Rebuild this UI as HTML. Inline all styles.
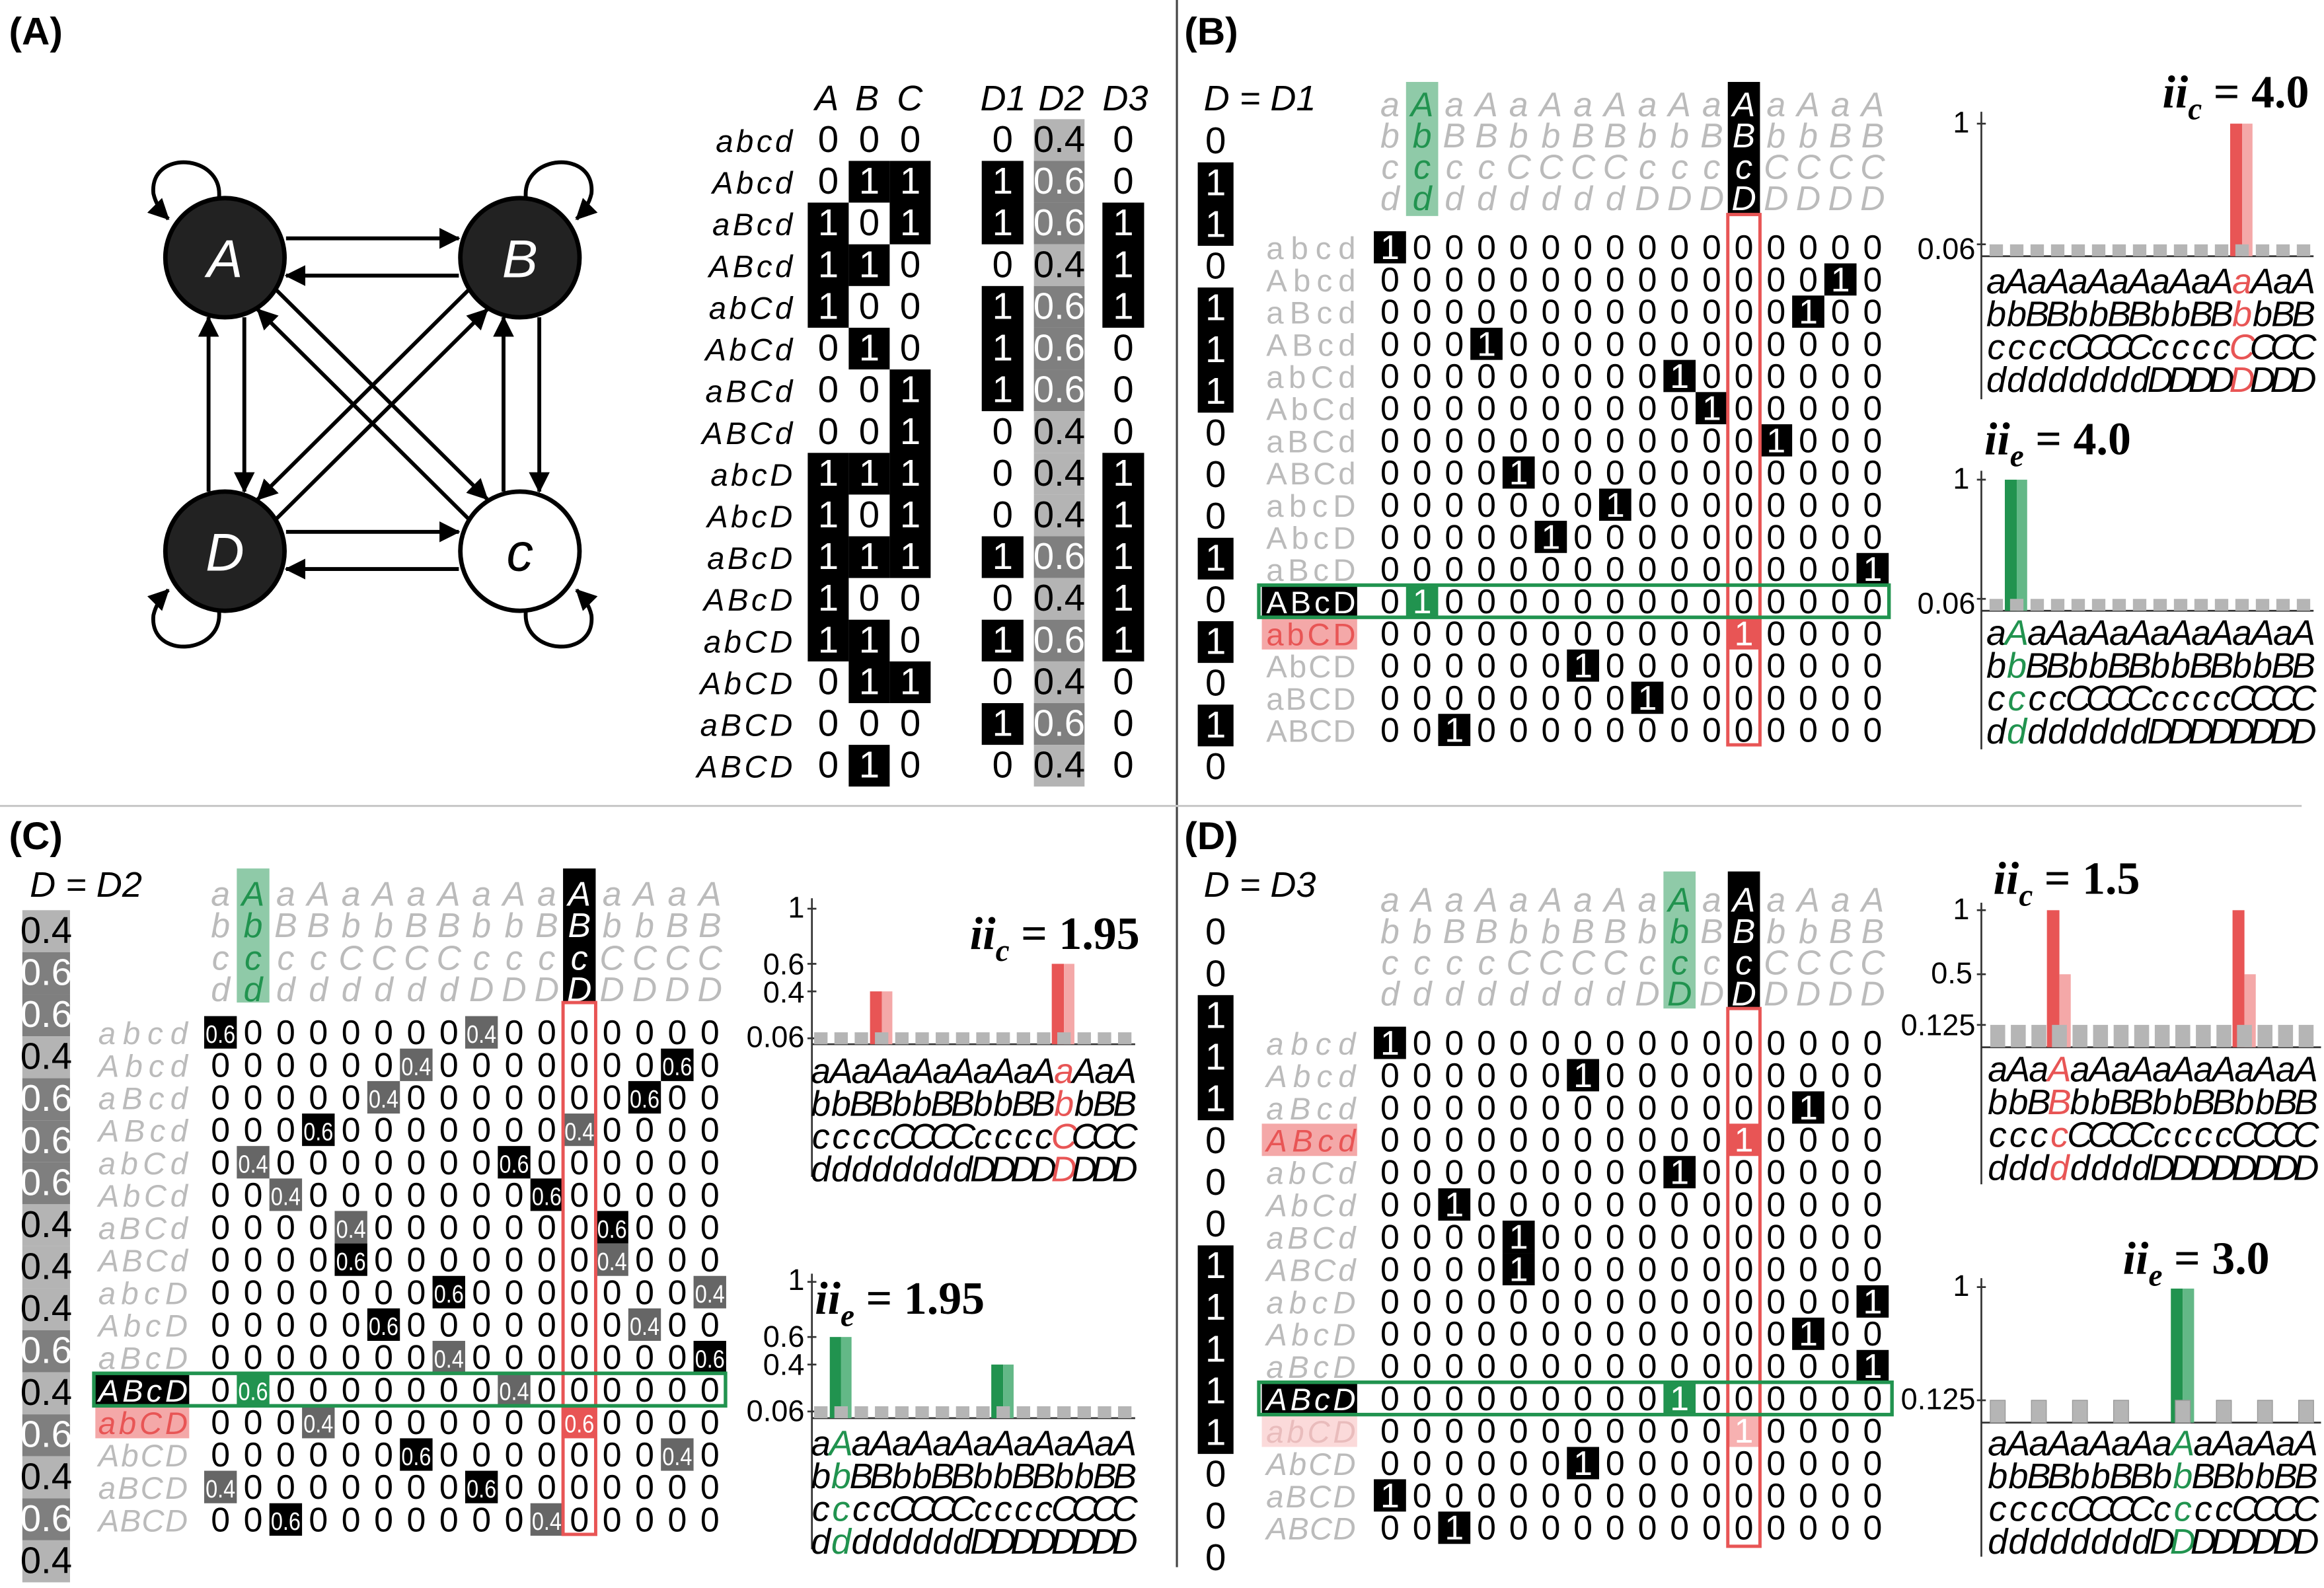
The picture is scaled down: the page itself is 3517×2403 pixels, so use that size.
<!DOCTYPE html>
<html><head><meta charset="utf-8"><style>
html,body{margin:0;padding:0;background:#fff}
svg{display:block}
text{font-family:"Liberation Sans",sans-serif}
.z{font-size:23px;text-anchor:middle}
.big{font-size:25px;text-anchor:middle}
.hd{font-size:23px;font-style:italic;fill:#bbb;text-anchor:middle}
.lb{font-size:21px;fill:#bbb;text-anchor:end}
.lbi{font-size:21px;font-style:italic;fill:#bbb;text-anchor:end}
.la{font-size:21px;font-style:italic;fill:#000;text-anchor:end;letter-spacing:2px}
.w{fill:#fff}
.g{fill:#21934f}
.gl{fill:#63b887}
.r{fill:#e85555}
.rl{fill:#f4a8a8}
.v{font-size:17px;fill:#fff;text-anchor:middle}
.cl{font-size:24px;font-style:italic;text-anchor:middle}
.tk{font-size:20px;text-anchor:end}
.ti{font-family:"Liberation Serif",serif;font-weight:bold;font-size:31px}
.pl{font-size:26px;font-weight:bold}
.dd{font-size:24px;font-style:italic}
.nd{font-size:36px;font-style:italic;text-anchor:middle}
.sq{fill:#b5b5b5;stroke:#999;stroke-width:.6}
</style></head><body>
<svg width="3517" height="2403" viewBox="0 0 1560 1066" preserveAspectRatio="none" xmlns="http://www.w3.org/2000/svg">
<defs>
<marker id="ar" markerWidth="14" markerHeight="14" refX="13" refY="7" orient="auto" markerUnits="userSpaceOnUse"><path d="M0,0 L14,7 L0,14 z" fill="#000"/></marker>
</defs>
<rect width="1560" height="1066" fill="#fff"/>
<line x1="790" y1="0" x2="790" y2="1052" stroke="#444" stroke-width="1.4"/>
<line x1="0" y1="541" x2="1545" y2="541" stroke="#c8c8c8" stroke-width="1.4"/>
<text class="pl" x="6" y="30">(A)</text>
<text class="pl" x="795" y="30">(B)</text>
<text class="pl" x="6" y="570">(C)</text>
<text class="pl" x="795" y="570">(D)</text>

<g stroke="#000" stroke-width="2.6" fill="none" marker-end="url(#ar)">
<path d="M192,160 L308,160"/>
<path d="M308,185 L192,185"/>
<path d="M192,357 L308,357"/>
<path d="M308,382 L192,382"/>
<path d="M164,213 L164,330"/>
<path d="M140,330 L140,213"/>
<path d="M362,213 L362,330"/>
<path d="M338,330 L338,213"/>
<path d="M185.7,194.9 L327,335"/>
<path d="M314.3,348.1 L172.9,207.7"/>
<path d="M314.3,194.9 L172.9,335.3"/>
<path d="M185.7,348.1 L327.1,207.7"/>
<path d="M147,133 C150,103 100,100 103,130 Q105,139 113,147"/>
<path d="M353,133 C350,103 400,100 397,130 Q395,139 387,147"/>
<path d="M147,410 C150,440 100,443 103,413 Q105,404 113,396"/>
<path d="M353,410 C350,440 400,443 397,413 Q395,404 387,396"/>
</g>
<circle cx="151" cy="173" r="40" fill="#222" stroke="#000" stroke-width="3"/>
<circle cx="349" cy="173" r="40" fill="#222" stroke="#000" stroke-width="3"/>
<circle cx="151" cy="370" r="40" fill="#222" stroke="#000" stroke-width="3"/>
<circle cx="349" cy="370" r="40" fill="#fff" stroke="#000" stroke-width="3"/>
<text class="nd w" x="151" y="186">A</text>
<text class="nd w" x="349" y="186">B</text>
<text class="nd w" x="151" y="383">D</text>
<text class="nd" x="349" y="383">c</text>

<g fill="#000">
<rect x="542.2" y="136" width="27.5" height="84"/><rect x="542.2" y="304" width="27.5" height="140"/>
<rect x="569.7" y="108" width="27.5" height="28"/><rect x="569.7" y="164" width="27.5" height="28"/><rect x="569.7" y="220" width="27.5" height="28"/><rect x="569.7" y="304" width="27.5" height="28"/><rect x="569.7" y="360" width="27.5" height="28"/><rect x="569.7" y="416" width="27.5" height="56"/><rect x="569.7" y="500" width="27.5" height="28"/>
<rect x="597.2" y="108" width="27.5" height="56"/><rect x="597.2" y="248" width="27.5" height="140"/><rect x="597.2" y="444" width="27.5" height="28"/>
<rect x="659" y="108" width="28" height="56"/><rect x="659" y="192" width="28" height="84"/><rect x="659" y="360" width="28" height="28"/><rect x="659" y="416" width="28" height="28"/><rect x="659" y="472" width="28" height="28"/>
<rect x="740" y="136" width="28" height="84"/><rect x="740" y="304" width="28" height="140"/>
</g>
<g>
<rect x="694" y="80" width="34" height="28" fill="#b4b4b4"/><rect x="694" y="108" width="34" height="28" fill="#7f7f7f"/><rect x="694" y="136" width="34" height="28" fill="#7f7f7f"/><rect x="694" y="164" width="34" height="28" fill="#b4b4b4"/><rect x="694" y="192" width="34" height="28" fill="#7f7f7f"/><rect x="694" y="220" width="34" height="28" fill="#7f7f7f"/><rect x="694" y="248" width="34" height="28" fill="#7f7f7f"/><rect x="694" y="276" width="34" height="28" fill="#b4b4b4"/><rect x="694" y="304" width="34" height="28" fill="#b4b4b4"/><rect x="694" y="332" width="34" height="28" fill="#b4b4b4"/><rect x="694" y="360" width="34" height="28" fill="#7f7f7f"/><rect x="694" y="388" width="34" height="28" fill="#b4b4b4"/><rect x="694" y="416" width="34" height="28" fill="#7f7f7f"/><rect x="694" y="444" width="34" height="28" fill="#b4b4b4"/><rect x="694" y="472" width="34" height="28" fill="#7f7f7f"/><rect x="694" y="500" width="34" height="28" fill="#b4b4b4"/>
</g>
<text class="dd" x="547" y="74">A</text><text class="dd" x="574" y="74">B</text><text class="dd" x="602" y="74">C</text>
<text class="dd" x="658" y="74">D1</text><text class="dd" x="697" y="74">D2</text><text class="dd" x="740" y="74">D3</text>
<g class="la">
<text x="534" y="102">abcd</text><text x="534" y="130">Abcd</text><text x="534" y="158">aBcd</text><text x="534" y="186">ABcd</text>
<text x="534" y="214">abCd</text><text x="534" y="242">AbCd</text><text x="534" y="270">aBCd</text><text x="534" y="298">ABCd</text>
<text x="534" y="326">abcD</text><text x="534" y="354">AbcD</text><text x="534" y="382">aBcD</text><text x="534" y="410">ABcD</text>
<text x="534" y="438">abCD</text><text x="534" y="466">AbCD</text><text x="534" y="494">aBCD</text><text x="534" y="522">ABCD</text>
</g>
<g class="big">
<text x="556 583.5 611 673 754" y="102">00000</text>
<text x="556 583.5 611 673 754" y="130">0<tspan class="w">111</tspan>0</text>
<text x="556 583.5 611 673 754" y="158"><tspan class="w">1</tspan>0<tspan class="w">111</tspan></text>
<text x="556 583.5 611 673 754" y="186"><tspan class="w">11</tspan>00<tspan class="w">1</tspan></text>
<text x="556 583.5 611 673 754" y="214"><tspan class="w">1</tspan>00<tspan class="w">11</tspan></text>
<text x="556 583.5 611 673 754" y="242">0<tspan class="w">1</tspan>0<tspan class="w">1</tspan>0</text>
<text x="556 583.5 611 673 754" y="270">00<tspan class="w">11</tspan>0</text>
<text x="556 583.5 611 673 754" y="298">00<tspan class="w">1</tspan>00</text>
<text x="556 583.5 611 673 754" y="326"><tspan class="w">111</tspan>0<tspan class="w">1</tspan></text>
<text x="556 583.5 611 673 754" y="354"><tspan class="w">1</tspan>0<tspan class="w">1</tspan>0<tspan class="w">1</tspan></text>
<text x="556 583.5 611 673 754" y="382"><tspan class="w">11111</tspan></text>
<text x="556 583.5 611 673 754" y="410"><tspan class="w">1</tspan>000<tspan class="w">1</tspan></text>
<text x="556 583.5 611 673 754" y="438"><tspan class="w">11</tspan>0<tspan class="w">11</tspan></text>
<text x="556 583.5 611 673 754" y="466">0<tspan class="w">11</tspan>00</text>
<text x="556 583.5 611 673 754" y="494">000<tspan class="w">1</tspan>0</text>
<text x="556 583.5 611 673 754" y="522">0<tspan class="w">1</tspan>000</text>
<text x="711" y="102">0.4</text><text x="711" y="130" class="w">0.6</text><text x="711" y="158" class="w">0.6</text><text x="711" y="186">0.4</text>
<text x="711" y="214" class="w">0.6</text><text x="711" y="242" class="w">0.6</text><text x="711" y="270" class="w">0.6</text><text x="711" y="298">0.4</text>
<text x="711" y="326">0.4</text><text x="711" y="354">0.4</text><text x="711" y="382" class="w">0.6</text><text x="711" y="410">0.4</text>
<text x="711" y="438" class="w">0.6</text><text x="711" y="466">0.4</text><text x="711" y="494" class="w">0.6</text><text x="711" y="522">0.4</text>
</g>

<text class="dd" x="808" y="74">D = D1</text>
<g fill="#000">
<rect x="804" y="109" width="24" height="56"/><rect x="804" y="193" width="24" height="84"/><rect x="804" y="361" width="24" height="28"/><rect x="804" y="417" width="24" height="28"/><rect x="804" y="473" width="24" height="28"/>
</g>
<g class="big">
<text x="816" y="103">0</text><text x="816" y="131" class="w">1</text><text x="816" y="159" class="w">1</text><text x="816" y="187">0</text>
<text x="816" y="215" class="w">1</text><text x="816" y="243" class="w">1</text><text x="816" y="271" class="w">1</text><text x="816" y="299">0</text>
<text x="816" y="327">0</text><text x="816" y="355">0</text><text x="816" y="383" class="w">1</text><text x="816" y="411">0</text>
<text x="816" y="439" class="w">1</text><text x="816" y="467">0</text><text x="816" y="495" class="w">1</text><text x="816" y="523">0</text>
</g>
<rect x="943.8" y="55" width="21.6" height="90" fill="#8fcaa8"/>
<rect x="1159.8" y="55" width="21.6" height="89" fill="#000"/>
<g class="hd">
<text x="933 954.6 976.2 997.8 1019.4 1041 1062.6 1084.2 1105.8 1127.4 1149 1170.6 1192.2 1213.8 1235.4 1257" y="78">a<tspan class="g">A</tspan>aAaAaAaAa<tspan class="w">A</tspan>aAaA</text>
<text x="933 954.6 976.2 997.8 1019.4 1041 1062.6 1084.2 1105.8 1127.4 1149 1170.6 1192.2 1213.8 1235.4 1257" y="99">b<tspan class="g">b</tspan>BBbbBBbbB<tspan class="w">B</tspan>bbBB</text>
<text x="933 954.6 976.2 997.8 1019.4 1041 1062.6 1084.2 1105.8 1127.4 1149 1170.6 1192.2 1213.8 1235.4 1257" y="120">c<tspan class="g">c</tspan>ccCCCCccc<tspan class="w">c</tspan>CCCC</text>
<text x="933 954.6 976.2 997.8 1019.4 1041 1062.6 1084.2 1105.8 1127.4 1149 1170.6 1192.2 1213.8 1235.4 1257" y="141">d<tspan class="g">d</tspan>ddddddDDD<tspan class="w">D</tspan>DDDD</text>
</g>
<rect x="847" y="392.8" width="64" height="21.6" fill="#000"/>
<rect x="847" y="414.4" width="64" height="21.6" fill="#f4a8a8"/>
<g class="lb">
<text x="910" y="174" textLength="60">abcd</text><text x="910" y="195.6" textLength="60">Abcd</text><text x="910" y="217.2" textLength="60">aBcd</text><text x="910" y="238.8" textLength="60">ABcd</text>
<text x="910" y="260.4" textLength="60">abCd</text><text x="910" y="282" textLength="60">AbCd</text><text x="910" y="303.6" textLength="60">aBCd</text><text x="910" y="325.2" textLength="60">ABCd</text>
<text x="910" y="346.8" textLength="60">abcD</text><text x="910" y="368.4" textLength="60">AbcD</text><text x="910" y="390" textLength="60">aBcD</text><text x="910" y="411.6" textLength="60" class="w">ABcD</text>
<text x="910" y="433.2" textLength="60" class="r">abCD</text><text x="910" y="454.8" textLength="60">AbCD</text><text x="910" y="476.4" textLength="60">aBCD</text><text x="910" y="498" textLength="60">ABCD</text>
</g>
<g class="z">
<text x="933 954.6 976.2 997.8 1019.4 1041 1062.6 1084.2 1105.8 1127.4 1149 1170.6 1192.2 1213.8 1235.4 1257" y="174">0000000000000000</text>
<text x="933 954.6 976.2 997.8 1019.4 1041 1062.6 1084.2 1105.8 1127.4 1149 1170.6 1192.2 1213.8 1235.4 1257" y="195.6">0000000000000000</text>
<text x="933 954.6 976.2 997.8 1019.4 1041 1062.6 1084.2 1105.8 1127.4 1149 1170.6 1192.2 1213.8 1235.4 1257" y="217.2">0000000000000000</text>
<text x="933 954.6 976.2 997.8 1019.4 1041 1062.6 1084.2 1105.8 1127.4 1149 1170.6 1192.2 1213.8 1235.4 1257" y="238.8">0000000000000000</text>
<text x="933 954.6 976.2 997.8 1019.4 1041 1062.6 1084.2 1105.8 1127.4 1149 1170.6 1192.2 1213.8 1235.4 1257" y="260.4">0000000000000000</text>
<text x="933 954.6 976.2 997.8 1019.4 1041 1062.6 1084.2 1105.8 1127.4 1149 1170.6 1192.2 1213.8 1235.4 1257" y="282">0000000000000000</text>
<text x="933 954.6 976.2 997.8 1019.4 1041 1062.6 1084.2 1105.8 1127.4 1149 1170.6 1192.2 1213.8 1235.4 1257" y="303.6">0000000000000000</text>
<text x="933 954.6 976.2 997.8 1019.4 1041 1062.6 1084.2 1105.8 1127.4 1149 1170.6 1192.2 1213.8 1235.4 1257" y="325.2">0000000000000000</text>
<text x="933 954.6 976.2 997.8 1019.4 1041 1062.6 1084.2 1105.8 1127.4 1149 1170.6 1192.2 1213.8 1235.4 1257" y="346.8">0000000000000000</text>
<text x="933 954.6 976.2 997.8 1019.4 1041 1062.6 1084.2 1105.8 1127.4 1149 1170.6 1192.2 1213.8 1235.4 1257" y="368.4">0000000000000000</text>
<text x="933 954.6 976.2 997.8 1019.4 1041 1062.6 1084.2 1105.8 1127.4 1149 1170.6 1192.2 1213.8 1235.4 1257" y="390">0000000000000000</text>
<text x="933 954.6 976.2 997.8 1019.4 1041 1062.6 1084.2 1105.8 1127.4 1149 1170.6 1192.2 1213.8 1235.4 1257" y="411.6">0000000000000000</text>
<text x="933 954.6 976.2 997.8 1019.4 1041 1062.6 1084.2 1105.8 1127.4 1149 1170.6 1192.2 1213.8 1235.4 1257" y="433.2">0000000000000000</text>
<text x="933 954.6 976.2 997.8 1019.4 1041 1062.6 1084.2 1105.8 1127.4 1149 1170.6 1192.2 1213.8 1235.4 1257" y="454.8">0000000000000000</text>
<text x="933 954.6 976.2 997.8 1019.4 1041 1062.6 1084.2 1105.8 1127.4 1149 1170.6 1192.2 1213.8 1235.4 1257" y="476.4">0000000000000000</text>
<text x="933 954.6 976.2 997.8 1019.4 1041 1062.6 1084.2 1105.8 1127.4 1149 1170.6 1192.2 1213.8 1235.4 1257" y="498">0000000000000000</text>
</g>
<g>
<rect x="922.2" y="155.2" width="21.6" height="21.6"/>
<rect x="1224.6" y="176.8" width="21.6" height="21.6"/>
<rect x="1203" y="198.4" width="21.6" height="21.6"/>
<rect x="987" y="220" width="21.6" height="21.6"/>
<rect x="1116.6" y="241.6" width="21.6" height="21.6"/>
<rect x="1138.2" y="263.2" width="21.6" height="21.6"/>
<rect x="1181.4" y="284.8" width="21.6" height="21.6"/>
<rect x="1008.6" y="306.4" width="21.6" height="21.6"/>
<rect x="1073.4" y="328" width="21.6" height="21.6"/>
<rect x="1030.2" y="349.6" width="21.6" height="21.6"/>
<rect x="1246.2" y="371.2" width="21.6" height="21.6"/>
<rect x="943.8" y="392.8" width="21.6" height="21.6" class="g"/>
<rect x="1159.8" y="414.4" width="21.6" height="21.6" class="r"/>
<rect x="1051.8" y="436" width="21.6" height="21.6"/>
<rect x="1095" y="457.6" width="21.6" height="21.6"/>
<rect x="965.4" y="479.2" width="21.6" height="21.6"/>
</g>
<g class="z w">
<text x="933" y="174">1</text><text x="1235.4" y="195.6">1</text><text x="1213.8" y="217.2">1</text><text x="997.8" y="238.8">1</text>
<text x="1127.4" y="260.4">1</text><text x="1149" y="282">1</text><text x="1192.2" y="303.6">1</text><text x="1019.4" y="325.2">1</text>
<text x="1084.2" y="346.8">1</text><text x="1041" y="368.4">1</text><text x="1257" y="390">1</text><text x="954.6" y="411.6">1</text>
<text x="1170.6" y="433.2">1</text><text x="1062.6" y="454.8">1</text><text x="1105.8" y="476.4">1</text><text x="976.2" y="498">1</text>
</g>
<rect x="1159.8" y="144" width="21.6" height="356" fill="none" stroke="#e85555" stroke-width="2.2"/>
<rect x="845" y="392.8" width="423" height="21.6" fill="none" stroke="#21934f" stroke-width="2.4"/>

<g stroke="#333" stroke-width="1.2">
<line x1="1330" y1="75" x2="1330" y2="268"/><line x1="1330" y1="172" x2="1553" y2="172"/>
<line x1="1327" y1="83" x2="1333" y2="83"/><line x1="1327" y1="164" x2="1333" y2="164"/>
<line x1="1330" y1="316" x2="1330" y2="503"/><line x1="1330" y1="410" x2="1553" y2="410"/>
<line x1="1327" y1="322" x2="1333" y2="322"/><line x1="1327" y1="402" x2="1333" y2="402"/>
</g>
<rect x="1497" y="83" width="8" height="89" class="r"/><rect x="1505" y="83" width="7" height="89" class="rl"/>
<rect x="1345.75" y="322" width="8" height="88" class="g"/><rect x="1353.75" y="322" width="7" height="88" class="gl"/>
<line x1="1335.5" y1="168" x2="1551" y2="168" stroke="#b5b5b5" stroke-width="8" stroke-dasharray="9 4.75"/>
<line x1="1335.5" y1="406" x2="1551" y2="406" stroke="#b5b5b5" stroke-width="8" stroke-dasharray="9 4.75"/>
<text class="tk" x="1322" y="89">1</text><text class="tk" x="1326" y="174">0.06</text>
<text class="tk" x="1322" y="328">1</text><text class="tk" x="1326" y="412">0.06</text>
<text class="ti" x="1550" y="72" text-anchor="end"><tspan font-style="italic">ii</tspan><tspan font-style="italic" font-size="21" dy="8">c</tspan><tspan dy="-8"> = 4.0</tspan></text>
<text class="ti" x="1332" y="305"><tspan font-style="italic">ii</tspan><tspan font-style="italic" font-size="21" dy="8">e</tspan><tspan dy="-8"> = 4.0</tspan></text>
<g class="cl">
<text x="1340 1353.75 1367.5 1381.25 1395 1408.75 1422.5 1436.25 1450 1463.75 1477.5 1491.25 1505 1518.75 1532.5 1546.25" y="197">aAaAaAaAaAaA<tspan class="r">a</tspan>AaA</text>
<text x="1340 1353.75 1367.5 1381.25 1395 1408.75 1422.5 1436.25 1450 1463.75 1477.5 1491.25 1505 1518.75 1532.5 1546.25" y="219">bbBBbbBBbbBB<tspan class="r">b</tspan>bBB</text>
<text x="1340 1353.75 1367.5 1381.25 1395 1408.75 1422.5 1436.25 1450 1463.75 1477.5 1491.25 1505 1518.75 1532.5 1546.25" y="241">ccccCCCCcccc<tspan class="r">C</tspan>CCC</text>
<text x="1340 1353.75 1367.5 1381.25 1395 1408.75 1422.5 1436.25 1450 1463.75 1477.5 1491.25 1505 1518.75 1532.5 1546.25" y="263">ddddddddDDDD<tspan class="r">D</tspan>DDD</text>
<text x="1340 1353.75 1367.5 1381.25 1395 1408.75 1422.5 1436.25 1450 1463.75 1477.5 1491.25 1505 1518.75 1532.5 1546.25" y="433">a<tspan class="g">A</tspan>aAaAaAaAaAaAaA</text>
<text x="1340 1353.75 1367.5 1381.25 1395 1408.75 1422.5 1436.25 1450 1463.75 1477.5 1491.25 1505 1518.75 1532.5 1546.25" y="455">b<tspan class="g">b</tspan>BBbbBBbbBBbbBB</text>
<text x="1340 1353.75 1367.5 1381.25 1395 1408.75 1422.5 1436.25 1450 1463.75 1477.5 1491.25 1505 1518.75 1532.5 1546.25" y="477">c<tspan class="g">c</tspan>ccCCCCccccCCCC</text>
<text x="1340 1353.75 1367.5 1381.25 1395 1408.75 1422.5 1436.25 1450 1463.75 1477.5 1491.25 1505 1518.75 1532.5 1546.25" y="499">d<tspan class="g">d</tspan>ddddddDDDDDDDD</text>
</g>

<text class="dd" x="20" y="602">D = D2</text>
<g>
<rect x="15" y="611" width="32" height="28.2" fill="#b4b4b4"/><rect x="15" y="639.2" width="32" height="28.2" fill="#7f7f7f"/><rect x="15" y="667.4" width="32" height="28.2" fill="#7f7f7f"/><rect x="15" y="695.6" width="32" height="28.2" fill="#b4b4b4"/>
<rect x="15" y="723.8" width="32" height="28.2" fill="#7f7f7f"/><rect x="15" y="752" width="32" height="28.2" fill="#7f7f7f"/><rect x="15" y="780.2" width="32" height="28.2" fill="#7f7f7f"/><rect x="15" y="808.4" width="32" height="28.2" fill="#b4b4b4"/>
<rect x="15" y="836.6" width="32" height="28.2" fill="#b4b4b4"/><rect x="15" y="864.8" width="32" height="28.2" fill="#b4b4b4"/><rect x="15" y="893" width="32" height="28.2" fill="#7f7f7f"/><rect x="15" y="921.2" width="32" height="28.2" fill="#b4b4b4"/>
<rect x="15" y="949.4" width="32" height="28.2" fill="#7f7f7f"/><rect x="15" y="977.6" width="32" height="28.2" fill="#b4b4b4"/><rect x="15" y="1005.8" width="32" height="28.2" fill="#7f7f7f"/><rect x="15" y="1034" width="32" height="28.2" fill="#b4b4b4"/>
</g>
<g class="big">
<text x="31" y="633">0.4</text><text x="31" y="661.2" class="w">0.6</text><text x="31" y="689.4" class="w">0.6</text><text x="31" y="717.6">0.4</text>
<text x="31" y="745.8" class="w">0.6</text><text x="31" y="774" class="w">0.6</text><text x="31" y="802.2" class="w">0.6</text><text x="31" y="830.4">0.4</text>
<text x="31" y="858.6">0.4</text><text x="31" y="886.8">0.4</text><text x="31" y="915" class="w">0.6</text><text x="31" y="943.2">0.4</text>
<text x="31" y="971.4" class="w">0.6</text><text x="31" y="999.6">0.4</text><text x="31" y="1027.8" class="w">0.6</text><text x="31" y="1056">0.4</text>
</g>
<rect x="158.95" y="583" width="21.9" height="90" fill="#8fcaa8"/>
<rect x="377.95" y="583" width="21.9" height="90" fill="#000"/>
<g class="hd">
<text x="148 169.9 191.8 213.7 235.6 257.5 279.4 301.3 323.2 345.1 367 388.9 410.8 432.7 454.6 476.5" y="608">a<tspan class="g">A</tspan>aAaAaAaAa<tspan class="w">A</tspan>aAaA</text>
<text x="148 169.9 191.8 213.7 235.6 257.5 279.4 301.3 323.2 345.1 367 388.9 410.8 432.7 454.6 476.5" y="629">b<tspan class="g">b</tspan>BBbbBBbbB<tspan class="w">B</tspan>bbBB</text>
<text x="148 169.9 191.8 213.7 235.6 257.5 279.4 301.3 323.2 345.1 367 388.9 410.8 432.7 454.6 476.5" y="651">c<tspan class="g">c</tspan>ccCCCCccc<tspan class="w">c</tspan>CCCC</text>
<text x="148 169.9 191.8 213.7 235.6 257.5 279.4 301.3 323.2 345.1 367 388.9 410.8 432.7 454.6 476.5" y="672">d<tspan class="g">d</tspan>ddddddDDD<tspan class="w">D</tspan>DDDD</text>
</g>
<rect x="64" y="921.9" width="63" height="21.8" fill="#000"/>
<rect x="64" y="943.7" width="63" height="21.8" fill="#f4a8a8"/>
<g class="lbi">
<text x="126" y="701" textLength="60">abcd</text><text x="126" y="722.8" textLength="60">Abcd</text><text x="126" y="744.6" textLength="60">aBcd</text><text x="126" y="766.4" textLength="60">ABcd</text>
<text x="126" y="788.2" textLength="60">abCd</text><text x="126" y="810" textLength="60">AbCd</text><text x="126" y="831.8" textLength="60">aBCd</text><text x="126" y="853.6" textLength="60">ABCd</text>
<text x="126" y="875.4" textLength="60">abcD</text><text x="126" y="897.2" textLength="60">AbcD</text><text x="126" y="919" textLength="60">aBcD</text><text x="126" y="940.8" textLength="60" class="w">ABcD</text>
<text x="126" y="962.6" textLength="60" class="r">abCD</text><text x="126" y="984.4" textLength="60">AbCD</text><text x="126" y="1006.2" textLength="60">aBCD</text><text x="126" y="1028" textLength="60">ABCD</text>
</g>
<g class="z">
<text x="148 169.9 191.8 213.7 235.6 257.5 279.4 301.3 323.2 345.1 367 388.9 410.8 432.7 454.6 476.5" y="701">0000000000000000</text>
<text x="148 169.9 191.8 213.7 235.6 257.5 279.4 301.3 323.2 345.1 367 388.9 410.8 432.7 454.6 476.5" y="722.8">0000000000000000</text>
<text x="148 169.9 191.8 213.7 235.6 257.5 279.4 301.3 323.2 345.1 367 388.9 410.8 432.7 454.6 476.5" y="744.6">0000000000000000</text>
<text x="148 169.9 191.8 213.7 235.6 257.5 279.4 301.3 323.2 345.1 367 388.9 410.8 432.7 454.6 476.5" y="766.4">0000000000000000</text>
<text x="148 169.9 191.8 213.7 235.6 257.5 279.4 301.3 323.2 345.1 367 388.9 410.8 432.7 454.6 476.5" y="788.2">0000000000000000</text>
<text x="148 169.9 191.8 213.7 235.6 257.5 279.4 301.3 323.2 345.1 367 388.9 410.8 432.7 454.6 476.5" y="810">0000000000000000</text>
<text x="148 169.9 191.8 213.7 235.6 257.5 279.4 301.3 323.2 345.1 367 388.9 410.8 432.7 454.6 476.5" y="831.8">0000000000000000</text>
<text x="148 169.9 191.8 213.7 235.6 257.5 279.4 301.3 323.2 345.1 367 388.9 410.8 432.7 454.6 476.5" y="853.6">0000000000000000</text>
<text x="148 169.9 191.8 213.7 235.6 257.5 279.4 301.3 323.2 345.1 367 388.9 410.8 432.7 454.6 476.5" y="875.4">0000000000000000</text>
<text x="148 169.9 191.8 213.7 235.6 257.5 279.4 301.3 323.2 345.1 367 388.9 410.8 432.7 454.6 476.5" y="897.2">0000000000000000</text>
<text x="148 169.9 191.8 213.7 235.6 257.5 279.4 301.3 323.2 345.1 367 388.9 410.8 432.7 454.6 476.5" y="919">0000000000000000</text>
<text x="148 169.9 191.8 213.7 235.6 257.5 279.4 301.3 323.2 345.1 367 388.9 410.8 432.7 454.6 476.5" y="940.8">0000000000000000</text>
<text x="148 169.9 191.8 213.7 235.6 257.5 279.4 301.3 323.2 345.1 367 388.9 410.8 432.7 454.6 476.5" y="962.6">0000000000000000</text>
<text x="148 169.9 191.8 213.7 235.6 257.5 279.4 301.3 323.2 345.1 367 388.9 410.8 432.7 454.6 476.5" y="984.4">0000000000000000</text>
<text x="148 169.9 191.8 213.7 235.6 257.5 279.4 301.3 323.2 345.1 367 388.9 410.8 432.7 454.6 476.5" y="1006.2">0000000000000000</text>
<text x="148 169.9 191.8 213.7 235.6 257.5 279.4 301.3 323.2 345.1 367 388.9 410.8 432.7 454.6 476.5" y="1028">0000000000000000</text>
</g>
<g>
<rect x="137.05" y="682.1" width="21.9" height="21.8"/><rect x="312.25" y="682.1" width="21.9" height="21.8" fill="#666"/>
<rect x="268.45" y="703.9" width="21.9" height="21.8" fill="#666"/><rect x="443.65" y="703.9" width="21.9" height="21.8"/>
<rect x="246.55" y="725.7" width="21.9" height="21.8" fill="#666"/><rect x="421.75" y="725.7" width="21.9" height="21.8"/>
<rect x="202.75" y="747.5" width="21.9" height="21.8"/><rect x="377.95" y="747.5" width="21.9" height="21.8" fill="#666"/>
<rect x="158.95" y="769.3" width="21.9" height="21.8" fill="#666"/><rect x="334.15" y="769.3" width="21.9" height="21.8"/>
<rect x="180.85" y="791.1" width="21.9" height="21.8" fill="#666"/><rect x="356.05" y="791.1" width="21.9" height="21.8"/>
<rect x="224.65" y="812.9" width="21.9" height="21.8" fill="#666"/><rect x="399.85" y="812.9" width="21.9" height="21.8"/>
<rect x="224.65" y="834.7" width="21.9" height="21.8"/><rect x="399.85" y="834.7" width="21.9" height="21.8" fill="#666"/>
<rect x="290.35" y="856.5" width="21.9" height="21.8"/><rect x="465.55" y="856.5" width="21.9" height="21.8" fill="#666"/>
<rect x="246.55" y="878.3" width="21.9" height="21.8"/><rect x="421.75" y="878.3" width="21.9" height="21.8" fill="#666"/>
<rect x="290.35" y="900.1" width="21.9" height="21.8" fill="#666"/><rect x="465.55" y="900.1" width="21.9" height="21.8"/>
<rect x="158.95" y="921.9" width="21.9" height="21.8" class="g"/><rect x="334.15" y="921.9" width="21.9" height="21.8" fill="#666"/>
<rect x="202.75" y="943.7" width="21.9" height="21.8" fill="#666"/><rect x="377.95" y="943.7" width="21.9" height="21.8" class="r"/>
<rect x="268.45" y="965.5" width="21.9" height="21.8"/><rect x="443.65" y="965.5" width="21.9" height="21.8" fill="#666"/>
<rect x="137.05" y="987.3" width="21.9" height="21.8" fill="#666"/><rect x="312.25" y="987.3" width="21.9" height="21.8"/>
<rect x="180.85" y="1009.1" width="21.9" height="21.8"/><rect x="356.05" y="1009.1" width="21.9" height="21.8" fill="#666"/>
</g>
<g class="v">
<text x="148" y="700" textLength="20" lengthAdjust="spacingAndGlyphs">0.6</text><text x="323.2" y="700" textLength="20" lengthAdjust="spacingAndGlyphs">0.4</text>
<text x="279.4" y="721.8" textLength="20" lengthAdjust="spacingAndGlyphs">0.4</text><text x="454.6" y="721.8" textLength="20" lengthAdjust="spacingAndGlyphs">0.6</text>
<text x="257.5" y="743.6" textLength="20" lengthAdjust="spacingAndGlyphs">0.4</text><text x="432.7" y="743.6" textLength="20" lengthAdjust="spacingAndGlyphs">0.6</text>
<text x="213.7" y="765.4" textLength="20" lengthAdjust="spacingAndGlyphs">0.6</text><text x="388.9" y="765.4" textLength="20" lengthAdjust="spacingAndGlyphs">0.4</text>
<text x="169.9" y="787.2" textLength="20" lengthAdjust="spacingAndGlyphs">0.4</text><text x="345.1" y="787.2" textLength="20" lengthAdjust="spacingAndGlyphs">0.6</text>
<text x="191.8" y="809" textLength="20" lengthAdjust="spacingAndGlyphs">0.4</text><text x="367" y="809" textLength="20" lengthAdjust="spacingAndGlyphs">0.6</text>
<text x="235.6" y="830.8" textLength="20" lengthAdjust="spacingAndGlyphs">0.4</text><text x="410.8" y="830.8" textLength="20" lengthAdjust="spacingAndGlyphs">0.6</text>
<text x="235.6" y="852.6" textLength="20" lengthAdjust="spacingAndGlyphs">0.6</text><text x="410.8" y="852.6" textLength="20" lengthAdjust="spacingAndGlyphs">0.4</text>
<text x="301.3" y="874.4" textLength="20" lengthAdjust="spacingAndGlyphs">0.6</text><text x="476.5" y="874.4" textLength="20" lengthAdjust="spacingAndGlyphs">0.4</text>
<text x="257.5" y="896.2" textLength="20" lengthAdjust="spacingAndGlyphs">0.6</text><text x="432.7" y="896.2" textLength="20" lengthAdjust="spacingAndGlyphs">0.4</text>
<text x="301.3" y="918" textLength="20" lengthAdjust="spacingAndGlyphs">0.4</text><text x="476.5" y="918" textLength="20" lengthAdjust="spacingAndGlyphs">0.6</text>
<text x="169.9" y="939.8" textLength="20" lengthAdjust="spacingAndGlyphs">0.6</text><text x="345.1" y="939.8" textLength="20" lengthAdjust="spacingAndGlyphs">0.4</text>
<text x="213.7" y="961.6" textLength="20" lengthAdjust="spacingAndGlyphs">0.4</text><text x="388.9" y="961.6" textLength="20" lengthAdjust="spacingAndGlyphs">0.6</text>
<text x="279.4" y="983.4" textLength="20" lengthAdjust="spacingAndGlyphs">0.6</text><text x="454.6" y="983.4" textLength="20" lengthAdjust="spacingAndGlyphs">0.4</text>
<text x="148" y="1005.2" textLength="20" lengthAdjust="spacingAndGlyphs">0.4</text><text x="323.2" y="1005.2" textLength="20" lengthAdjust="spacingAndGlyphs">0.6</text>
<text x="191.8" y="1027" textLength="20" lengthAdjust="spacingAndGlyphs">0.6</text><text x="367" y="1027" textLength="20" lengthAdjust="spacingAndGlyphs">0.4</text>
</g>
<rect x="377.95" y="673" width="21.9" height="357" fill="none" stroke="#e85555" stroke-width="2.2"/>
<rect x="63" y="921.9" width="424" height="21.8" fill="none" stroke="#21934f" stroke-width="2.4"/>

<g stroke="#333" stroke-width="1.2">
<line x1="545" y1="603" x2="545" y2="790"/><line x1="545" y1="701" x2="762" y2="701"/>
<line x1="542" y1="610" x2="548" y2="610"/><line x1="542" y1="647" x2="548" y2="647"/><line x1="542" y1="665.5" x2="548" y2="665.5"/><line x1="542" y1="697" x2="548" y2="697"/>
<line x1="545" y1="855" x2="545" y2="1040"/><line x1="545" y1="952" x2="762" y2="952"/>
<line x1="542" y1="860.5" x2="548" y2="860.5"/><line x1="542" y1="897.5" x2="548" y2="897.5"/><line x1="542" y1="916" x2="548" y2="916"/><line x1="542" y1="947.5" x2="548" y2="947.5"/>
</g>
<rect x="584" y="665.5" width="8" height="35.5" class="r"/><rect x="592" y="665.5" width="7" height="35.5" class="rl"/>
<rect x="706" y="647" width="8.2" height="54" class="r"/><rect x="714.2" y="647" width="7" height="54" class="rl"/>
<rect x="557" y="897.5" width="7.6" height="54.5" class="g"/><rect x="564.6" y="897.5" width="7" height="54.5" class="gl"/>
<rect x="665.4" y="916" width="8" height="36" class="g"/><rect x="673.4" y="916" width="7" height="36" class="gl"/>
<line x1="546.5" y1="697" x2="760" y2="697" stroke="#b5b5b5" stroke-width="8" stroke-dasharray="9 4.6"/>
<line x1="546.5" y1="948" x2="760" y2="948" stroke="#b5b5b5" stroke-width="8" stroke-dasharray="9 4.6"/>
<text class="tk" x="540" y="616">1</text><text class="tk" x="540" y="654">0.6</text><text class="tk" x="540" y="673">0.4</text><text class="tk" x="540" y="703">0.06</text>
<text class="tk" x="540" y="866">1</text><text class="tk" x="540" y="904">0.6</text><text class="tk" x="540" y="923">0.4</text><text class="tk" x="540" y="954">0.06</text>
<text class="ti" x="765" y="637" text-anchor="end"><tspan font-style="italic">ii</tspan><tspan font-style="italic" font-size="21" dy="8">c</tspan><tspan dy="-8"> = 1.95</tspan></text>
<text class="ti" x="547" y="882"><tspan font-style="italic">ii</tspan><tspan font-style="italic" font-size="21" dy="8">e</tspan><tspan dy="-8"> = 1.95</tspan></text>
<g class="cl">
<text x="551 564.6 578.2 591.8 605.4 619 632.6 646.2 659.8 673.4 687 700.6 714.2 727.8 741.4 755" y="727">aAaAaAaAaAaA<tspan class="r">a</tspan>AaA</text>
<text x="551 564.6 578.2 591.8 605.4 619 632.6 646.2 659.8 673.4 687 700.6 714.2 727.8 741.4 755" y="749">bbBBbbBBbbBB<tspan class="r">b</tspan>bBB</text>
<text x="551 564.6 578.2 591.8 605.4 619 632.6 646.2 659.8 673.4 687 700.6 714.2 727.8 741.4 755" y="771">ccccCCCCcccc<tspan class="r">C</tspan>CCC</text>
<text x="551 564.6 578.2 591.8 605.4 619 632.6 646.2 659.8 673.4 687 700.6 714.2 727.8 741.4 755" y="793">ddddddddDDDD<tspan class="r">D</tspan>DDD</text>
<text x="551 564.6 578.2 591.8 605.4 619 632.6 646.2 659.8 673.4 687 700.6 714.2 727.8 741.4 755" y="977">a<tspan class="g">A</tspan>aAaAaAaAaAaAaA</text>
<text x="551 564.6 578.2 591.8 605.4 619 632.6 646.2 659.8 673.4 687 700.6 714.2 727.8 741.4 755" y="999">b<tspan class="g">b</tspan>BBbbBBbbBBbbBB</text>
<text x="551 564.6 578.2 591.8 605.4 619 632.6 646.2 659.8 673.4 687 700.6 714.2 727.8 741.4 755" y="1021">c<tspan class="g">c</tspan>ccCCCCccccCCCC</text>
<text x="551 564.6 578.2 591.8 605.4 619 632.6 646.2 659.8 673.4 687 700.6 714.2 727.8 741.4 755" y="1043">d<tspan class="g">d</tspan>ddddddDDDDDDDD</text>
</g>

<text class="dd" x="808" y="602">D = D3</text>
<g fill="#000"><rect x="804" y="668" width="24" height="84"/><rect x="804" y="836" width="24" height="140"/></g>
<g class="big">
<text x="816" y="634">0</text><text x="816" y="662">0</text><text x="816" y="690" class="w">1</text><text x="816" y="718" class="w">1</text>
<text x="816" y="746" class="w">1</text><text x="816" y="774">0</text><text x="816" y="802">0</text><text x="816" y="830">0</text>
<text x="816" y="858" class="w">1</text><text x="816" y="886" class="w">1</text><text x="816" y="914" class="w">1</text><text x="816" y="942" class="w">1</text>
<text x="816" y="970" class="w">1</text><text x="816" y="998">0</text><text x="816" y="1026">0</text><text x="816" y="1054">0</text>
</g>
<rect x="1116.6" y="585" width="21.6" height="92" fill="#8fcaa8"/>
<rect x="1159.8" y="585" width="21.6" height="92" fill="#000"/>
<g class="hd">
<text x="933 954.6 976.2 997.8 1019.4 1041 1062.6 1084.2 1105.8 1127.4 1149 1170.6 1192.2 1213.8 1235.4 1257" y="612">aAaAaAaAa<tspan class="g">A</tspan>a<tspan class="w">A</tspan>aAaA</text>
<text x="933 954.6 976.2 997.8 1019.4 1041 1062.6 1084.2 1105.8 1127.4 1149 1170.6 1192.2 1213.8 1235.4 1257" y="633">bbBBbbBBb<tspan class="g">b</tspan>B<tspan class="w">B</tspan>bbBB</text>
<text x="933 954.6 976.2 997.8 1019.4 1041 1062.6 1084.2 1105.8 1127.4 1149 1170.6 1192.2 1213.8 1235.4 1257" y="654">ccccCCCCc<tspan class="g">c</tspan>c<tspan class="w">c</tspan>CCCC</text>
<text x="933 954.6 976.2 997.8 1019.4 1041 1062.6 1084.2 1105.8 1127.4 1149 1170.6 1192.2 1213.8 1235.4 1257" y="675">ddddddddD<tspan class="g">D</tspan>D<tspan class="w">D</tspan>DDDD</text>
</g>
<rect x="847" y="754.3" width="64" height="21.7" fill="#f4a8a8"/>
<rect x="847" y="927.9" width="64" height="21.7" fill="#000"/>
<rect x="847" y="949.6" width="64" height="21.7" fill="#fbdada"/>
<g class="lbi">
<text x="910" y="708" textLength="60">abcd</text><text x="910" y="729.7" textLength="60">Abcd</text><text x="910" y="751.4" textLength="60">aBcd</text><text x="910" y="773.1" textLength="60" class="r">ABcd</text>
<text x="910" y="794.8" textLength="60">abCd</text><text x="910" y="816.5" textLength="60">AbCd</text><text x="910" y="838.2" textLength="60">aBCd</text><text x="910" y="859.9" textLength="60">ABCd</text>
<text x="910" y="881.6" textLength="60">abcD</text><text x="910" y="903.3" textLength="60">AbcD</text><text x="910" y="925" textLength="60">aBcD</text><text x="910" y="946.7" textLength="60" class="w">ABcD</text>
<text x="910" y="968.4" textLength="60" style="fill:#e9bcbc">abCD</text><text x="910" y="990.1" textLength="60">AbCD</text><text x="910" y="1011.8" textLength="60">aBCD</text><text x="910" y="1033.5" textLength="60">ABCD</text>
</g>
<g class="z">
<text x="933 954.6 976.2 997.8 1019.4 1041 1062.6 1084.2 1105.8 1127.4 1149 1170.6 1192.2 1213.8 1235.4 1257" y="708">0000000000000000</text>
<text x="933 954.6 976.2 997.8 1019.4 1041 1062.6 1084.2 1105.8 1127.4 1149 1170.6 1192.2 1213.8 1235.4 1257" y="729.7">0000000000000000</text>
<text x="933 954.6 976.2 997.8 1019.4 1041 1062.6 1084.2 1105.8 1127.4 1149 1170.6 1192.2 1213.8 1235.4 1257" y="751.4">0000000000000000</text>
<text x="933 954.6 976.2 997.8 1019.4 1041 1062.6 1084.2 1105.8 1127.4 1149 1170.6 1192.2 1213.8 1235.4 1257" y="773.1">0000000000000000</text>
<text x="933 954.6 976.2 997.8 1019.4 1041 1062.6 1084.2 1105.8 1127.4 1149 1170.6 1192.2 1213.8 1235.4 1257" y="794.8">0000000000000000</text>
<text x="933 954.6 976.2 997.8 1019.4 1041 1062.6 1084.2 1105.8 1127.4 1149 1170.6 1192.2 1213.8 1235.4 1257" y="816.5">0000000000000000</text>
<text x="933 954.6 976.2 997.8 1019.4 1041 1062.6 1084.2 1105.8 1127.4 1149 1170.6 1192.2 1213.8 1235.4 1257" y="838.2">0000000000000000</text>
<text x="933 954.6 976.2 997.8 1019.4 1041 1062.6 1084.2 1105.8 1127.4 1149 1170.6 1192.2 1213.8 1235.4 1257" y="859.9">0000000000000000</text>
<text x="933 954.6 976.2 997.8 1019.4 1041 1062.6 1084.2 1105.8 1127.4 1149 1170.6 1192.2 1213.8 1235.4 1257" y="881.6">0000000000000000</text>
<text x="933 954.6 976.2 997.8 1019.4 1041 1062.6 1084.2 1105.8 1127.4 1149 1170.6 1192.2 1213.8 1235.4 1257" y="903.3">0000000000000000</text>
<text x="933 954.6 976.2 997.8 1019.4 1041 1062.6 1084.2 1105.8 1127.4 1149 1170.6 1192.2 1213.8 1235.4 1257" y="925">0000000000000000</text>
<text x="933 954.6 976.2 997.8 1019.4 1041 1062.6 1084.2 1105.8 1127.4 1149 1170.6 1192.2 1213.8 1235.4 1257" y="946.7">0000000000000000</text>
<text x="933 954.6 976.2 997.8 1019.4 1041 1062.6 1084.2 1105.8 1127.4 1149 1170.6 1192.2 1213.8 1235.4 1257" y="968.4">0000000000000000</text>
<text x="933 954.6 976.2 997.8 1019.4 1041 1062.6 1084.2 1105.8 1127.4 1149 1170.6 1192.2 1213.8 1235.4 1257" y="990.1">0000000000000000</text>
<text x="933 954.6 976.2 997.8 1019.4 1041 1062.6 1084.2 1105.8 1127.4 1149 1170.6 1192.2 1213.8 1235.4 1257" y="1011.8">0000000000000000</text>
<text x="933 954.6 976.2 997.8 1019.4 1041 1062.6 1084.2 1105.8 1127.4 1149 1170.6 1192.2 1213.8 1235.4 1257" y="1033.5">0000000000000000</text>
</g>
<g>
<rect x="922.2" y="689.2" width="21.6" height="21.7"/>
<rect x="1051.8" y="710.9" width="21.6" height="21.7"/>
<rect x="1203" y="732.6" width="21.6" height="21.7"/>
<rect x="1159.8" y="754.3" width="21.6" height="21.7" class="r"/>
<rect x="1116.6" y="776" width="21.6" height="21.7"/>
<rect x="965.4" y="797.7" width="21.6" height="21.7"/>
<rect x="1008.6" y="819.4" width="21.6" height="21.7"/>
<rect x="1008.6" y="841.1" width="21.6" height="21.7"/>
<rect x="1246.2" y="862.8" width="21.6" height="21.7"/>
<rect x="1203" y="884.5" width="21.6" height="21.7"/>
<rect x="1246.2" y="906.2" width="21.6" height="21.7"/>
<rect x="1116.6" y="927.9" width="21.6" height="21.7" class="g"/>
<rect x="1159.8" y="949.6" width="21.6" height="21.7" fill="#f7b1b1"/>
<rect x="1051.8" y="971.3" width="21.6" height="21.7"/>
<rect x="922.2" y="993" width="21.6" height="21.7"/>
<rect x="965.4" y="1014.7" width="21.6" height="21.7"/>
</g>
<g class="z w">
<text x="933" y="708">1</text><text x="1062.6" y="729.7">1</text><text x="1213.8" y="751.4">1</text><text x="1170.6" y="773.1">1</text>
<text x="1127.4" y="794.8">1</text><text x="976.2" y="816.5">1</text><text x="1019.4" y="838.2">1</text><text x="1019.4" y="859.9">1</text>
<text x="1257" y="881.6">1</text><text x="1213.8" y="903.3">1</text><text x="1257" y="925">1</text><text x="1127.4" y="946.7">1</text>
<text x="1170.6" y="968.4">1</text><text x="1062.6" y="990.1">1</text><text x="933" y="1011.8">1</text><text x="976.2" y="1033.5">1</text>
</g>
<rect x="1159.8" y="677" width="21.6" height="361" fill="none" stroke="#e85555" stroke-width="2.2"/>
<rect x="845" y="927.9" width="425" height="21.7" fill="none" stroke="#21934f" stroke-width="2.4"/>

<g stroke="#333" stroke-width="1.2">
<line x1="1330" y1="606" x2="1330" y2="795"/><line x1="1330" y1="703" x2="1558" y2="703"/>
<line x1="1327" y1="611" x2="1333" y2="611"/><line x1="1327" y1="654" x2="1333" y2="654"/><line x1="1327" y1="688" x2="1333" y2="688"/>
<line x1="1330" y1="858" x2="1330" y2="1045"/><line x1="1330" y1="955" x2="1558" y2="955"/>
<line x1="1327" y1="864" x2="1333" y2="864"/><line x1="1327" y1="940" x2="1333" y2="940"/>
</g>
<rect x="1374" y="611" width="8.4" height="92" class="r"/><rect x="1382.4" y="654" width="7.6" height="49" class="rl"/>
<rect x="1498.6" y="611" width="8" height="92" class="r"/><rect x="1506.6" y="654" width="7.6" height="49" class="rl"/>
<rect x="1457.2" y="865" width="8" height="90" class="g"/><rect x="1465.2" y="865" width="7.6" height="90" class="gl"/>
<line x1="1336" y1="695.5" x2="1553" y2="695.5" stroke="#b5b5b5" stroke-width="15" stroke-dasharray="10 3.8"/>
<g class="sq">
<rect x="1336" y="940" width="10" height="15"/><rect x="1363.6" y="940" width="10" height="15"/><rect x="1391.2" y="940" width="10" height="15"/><rect x="1418.8" y="940" width="10" height="15"/>
<rect x="1460.2" y="940" width="10" height="15"/><rect x="1487.8" y="940" width="10" height="15"/><rect x="1515.4" y="940" width="10" height="15"/><rect x="1543" y="940" width="10" height="15"/>
</g>
<text class="tk" x="1322" y="617">1</text><text class="tk" x="1324" y="660">0.5</text><text class="tk" x="1326" y="695">0.125</text>
<text class="tk" x="1322" y="870">1</text><text class="tk" x="1326" y="946">0.125</text>
<text class="ti" x="1338" y="600"><tspan font-style="italic">ii</tspan><tspan font-style="italic" font-size="21" dy="8">c</tspan><tspan dy="-8"> = 1.5</tspan></text>
<text class="ti" x="1425" y="855"><tspan font-style="italic">ii</tspan><tspan font-style="italic" font-size="21" dy="8">e</tspan><tspan dy="-8"> = 3.0</tspan></text>
<g class="cl">
<text x="1341 1354.8 1368.6 1382.4 1396.2 1410 1423.8 1437.6 1451.4 1465.2 1479 1492.8 1506.6 1520.4 1534.2 1548" y="726">aAa<tspan class="r">A</tspan>aAaAaAaAaAaA</text>
<text x="1341 1354.8 1368.6 1382.4 1396.2 1410 1423.8 1437.6 1451.4 1465.2 1479 1492.8 1506.6 1520.4 1534.2 1548" y="748">bbB<tspan class="r">B</tspan>bbBBbbBBbbBB</text>
<text x="1341 1354.8 1368.6 1382.4 1396.2 1410 1423.8 1437.6 1451.4 1465.2 1479 1492.8 1506.6 1520.4 1534.2 1548" y="770">ccc<tspan class="r">c</tspan>CCCCccccCCCC</text>
<text x="1341 1354.8 1368.6 1382.4 1396.2 1410 1423.8 1437.6 1451.4 1465.2 1479 1492.8 1506.6 1520.4 1534.2 1548" y="792">ddd<tspan class="r">d</tspan>ddddDDDDDDDD</text>
<text x="1341 1354.8 1368.6 1382.4 1396.2 1410 1423.8 1437.6 1451.4 1465.2 1479 1492.8 1506.6 1520.4 1534.2 1548" y="977">aAaAaAaAa<tspan class="g">A</tspan>aAaAaA</text>
<text x="1341 1354.8 1368.6 1382.4 1396.2 1410 1423.8 1437.6 1451.4 1465.2 1479 1492.8 1506.6 1520.4 1534.2 1548" y="999">bbBBbbBBb<tspan class="g">b</tspan>BBbbBB</text>
<text x="1341 1354.8 1368.6 1382.4 1396.2 1410 1423.8 1437.6 1451.4 1465.2 1479 1492.8 1506.6 1520.4 1534.2 1548" y="1021">ccccCCCCc<tspan class="g">c</tspan>ccCCCC</text>
<text x="1341 1354.8 1368.6 1382.4 1396.2 1410 1423.8 1437.6 1451.4 1465.2 1479 1492.8 1506.6 1520.4 1534.2 1548" y="1043">ddddddddD<tspan class="g">D</tspan>DDDDDD</text>
</g>
</svg>
</body></html>
